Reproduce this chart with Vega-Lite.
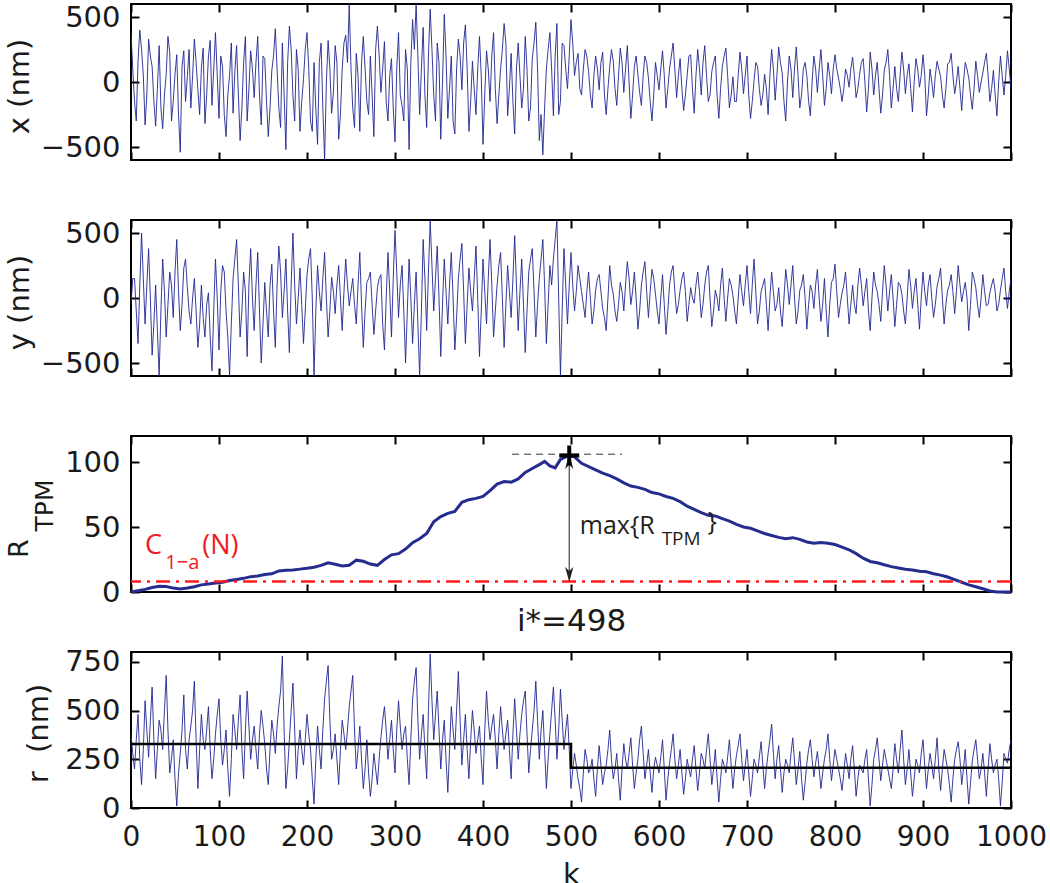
{
"$schema": "https://vega.github.io/schema/vega-lite/v6.json",
"padding": {"left": 4, "top": 2, "right": 10, "bottom": 0},
"background": "white",
"bounds": "flush",
"spacing": 60,
"config": {
  "font": "DejaVu Sans",
  "view": {"stroke": "#000000", "strokeWidth": 2},
  "style": {"guide-label": {"font": "DejaVu Sans", "fontSize": 29, "fill": "#1a1a1a"}, "guide-title": {"font": "DejaVu Sans", "fontSize": 29, "fontWeight": "normal", "fill": "#1a1a1a"}},
  "axis": {"domain": false, "offset": -8, "tickColor": "#000", "tickWidth": 2, "tickSize": 8, "labelFont": "DejaVu Sans", "labelFontSize": 29, "labelColor": "#1a1a1a", "labelPadding": 11, "labelFlush": false, "labelOverlap": false, "titleFont": "DejaVu Sans", "titleFontSize": 29, "titleFontWeight": "normal", "titleColor": "#1a1a1a", "grid": false, "format": "d"}
},
"datasets": {
"sig": [
{"k":0,"x":380,"y":-50,"r":380},{"k":4,"x":-150,"y":150,"r":200},{"k":8,"x":160,"y":-350,"r":480},{"k":12,"x":250,"y":500,"r":120},{"k":16,"x":-330,"y":-200,"r":550},{"k":20,"x":330,"y":380,"r":260},{"k":24,"x":120,"y":-440,"r":620},{"k":28,"x":-340,"y":100,"r":150},{"k":32,"x":280,"y":-600,"r":450},{"k":36,"x":-360,"y":300,"r":300},{"k":40,"x":60,"y":-300,"r":680},{"k":44,"x":230,"y":200,"r":180},{"k":48,"x":-150,"y":-150,"r":350},{"k":52,"x":210,"y":450,"r":10},{"k":56,"x":-540,"y":-250,"r":280},{"k":60,"x":240,"y":230,"r":580},{"k":64,"x":40,"y":80,"r":200},{"k":68,"x":-200,"y":-200,"r":420},{"k":72,"x":330,"y":150,"r":650},{"k":76,"x":-60,"y":-380,"r":100},{"k":80,"x":110,"y":100,"r":480},{"k":84,"x":-320,"y":-300,"r":300},{"k":88,"x":200,"y":40,"r":520},{"k":92,"x":-180,"y":-560,"r":150},{"k":96,"x":380,"y":300,"r":380},{"k":100,"x":-280,"y":-400,"r":560},{"k":104,"x":120,"y":250,"r":220},{"k":108,"x":-420,"y":-100,"r":400},{"k":112,"x":50,"y":-600,"r":60},{"k":116,"x":-240,"y":150,"r":480},{"k":120,"x":280,"y":450,"r":300},{"k":124,"x":-450,"y":-300,"r":580},{"k":128,"x":150,"y":200,"r":150},{"k":132,"x":-300,"y":-450,"r":600},{"k":136,"x":240,"y":380,"r":250},{"k":140,"x":-120,"y":-250,"r":420},{"k":144,"x":350,"y":350,"r":200},{"k":148,"x":-330,"y":-500,"r":500},{"k":152,"x":180,"y":120,"r":330},{"k":156,"x":-420,"y":-300,"r":120},{"k":160,"x":90,"y":260,"r":450},{"k":164,"x":410,"y":-380,"r":280},{"k":168,"x":-200,"y":400,"r":520},{"k":172,"x":300,"y":-150,"r":780},{"k":176,"x":-520,"y":300,"r":100},{"k":180,"x":430,"y":-420,"r":350},{"k":184,"x":-100,"y":500,"r":640},{"k":188,"x":250,"y":-200,"r":150},{"k":192,"x":-380,"y":230,"r":400},{"k":196,"x":20,"y":-350,"r":220},{"k":200,"x":380,"y":180,"r":480},{"k":204,"x":-300,"y":380,"r":300},{"k":208,"x":150,"y":-600,"r":20},{"k":212,"x":-480,"y":250,"r":420},{"k":216,"x":300,"y":-100,"r":200},{"k":220,"x":-600,"y":350,"r":560},{"k":224,"x":320,"y":-300,"r":730},{"k":228,"x":-240,"y":160,"r":250},{"k":232,"x":280,"y":-120,"r":380},{"k":236,"x":-440,"y":250,"r":120},{"k":240,"x":100,"y":-250,"r":450},{"k":244,"x":360,"y":300,"r":300},{"k":248,"x":600,"y":-60,"r":520},{"k":252,"x":-200,"y":150,"r":680},{"k":256,"x":220,"y":-200,"r":200},{"k":260,"x":-380,"y":350,"r":420},{"k":264,"x":350,"y":-380,"r":100},{"k":268,"x":-150,"y":120,"r":350},{"k":272,"x":200,"y":200,"r":60},{"k":276,"x":-420,"y":-280,"r":280},{"k":280,"x":430,"y":80,"r":120},{"k":284,"x":-80,"y":180,"r":360},{"k":288,"x":310,"y":-400,"r":520},{"k":292,"x":-300,"y":350,"r":250},{"k":296,"x":180,"y":-300,"r":450},{"k":300,"x":-460,"y":520,"r":180},{"k":304,"x":380,"y":-150,"r":550},{"k":308,"x":-180,"y":250,"r":300},{"k":312,"x":250,"y":-500,"r":420},{"k":316,"x":-520,"y":300,"r":120},{"k":320,"x":480,"y":-350,"r":560},{"k":324,"x":600,"y":200,"r":720},{"k":328,"x":-250,"y":-600,"r":250},{"k":332,"x":420,"y":450,"r":480},{"k":336,"x":-350,"y":-250,"r":150},{"k":340,"x":560,"y":600,"r":790},{"k":344,"x":-100,"y":-100,"r":350},{"k":348,"x":300,"y":400,"r":600},{"k":352,"x":-440,"y":-450,"r":200},{"k":356,"x":520,"y":300,"r":450},{"k":360,"x":-280,"y":-200,"r":80},{"k":364,"x":200,"y":350,"r":520},{"k":368,"x":-400,"y":-400,"r":300},{"k":372,"x":330,"y":150,"r":700},{"k":376,"x":-60,"y":420,"r":220},{"k":380,"x":440,"y":-350,"r":480},{"k":384,"x":-380,"y":230,"r":150},{"k":388,"x":160,"y":-100,"r":500},{"k":392,"x":-250,"y":400,"r":280},{"k":396,"x":350,"y":-450,"r":420},{"k":400,"x":-480,"y":300,"r":120},{"k":404,"x":240,"y":-200,"r":600},{"k":408,"x":-150,"y":450,"r":350},{"k":412,"x":380,"y":-300,"r":480},{"k":416,"x":-320,"y":100,"r":200},{"k":420,"x":100,"y":350,"r":520},{"k":424,"x":450,"y":-380,"r":300},{"k":428,"x":-260,"y":250,"r":450},{"k":432,"x":220,"y":-150,"r":150},{"k":436,"x":-400,"y":480,"r":560},{"k":440,"x":300,"y":-250,"r":250},{"k":444,"x":-200,"y":300,"r":480},{"k":448,"x":350,"y":-420,"r":600},{"k":452,"x":-300,"y":200,"r":180},{"k":456,"x":180,"y":380,"r":400},{"k":460,"x":460,"y":-300,"r":650},{"k":464,"x":-450,"y":150,"r":250},{"k":468,"x":-560,"y":450,"r":500},{"k":472,"x":100,"y":-350,"r":100},{"k":476,"x":380,"y":250,"r":380},{"k":480,"x":-260,"y":300,"r":620},{"k":484,"x":450,"y":600,"r":250},{"k":488,"x":-150,"y":-600,"r":610},{"k":492,"x":280,"y":380,"r":300},{"k":496,"x":-50,"y":-200,"r":480},
{"k":500,"x":480,"y":350,"r":100},{"k":504,"x":50,"y":-100,"r":280},{"k":508,"x":220,"y":250,"r":150},{"k":512,"x":-100,"y":50,"r":30},{"k":516,"x":250,"y":-150,"r":300},{"k":520,"x":80,"y":200,"r":180},{"k":524,"x":-200,"y":-200,"r":250},{"k":528,"x":200,"y":60,"r":60},{"k":532,"x":-60,"y":180,"r":320},{"k":536,"x":230,"y":-80,"r":120},{"k":540,"x":-250,"y":-250,"r":220},{"k":544,"x":120,"y":250,"r":400},{"k":548,"x":160,"y":30,"r":150},{"k":552,"x":-180,"y":-180,"r":280},{"k":556,"x":260,"y":120,"r":40},{"k":560,"x":-80,"y":-100,"r":330},{"k":564,"x":280,"y":280,"r":200},{"k":568,"x":-280,"y":-50,"r":360},{"k":572,"x":120,"y":200,"r":100},{"k":576,"x":60,"y":-240,"r":250},{"k":580,"x":-180,"y":100,"r":420},{"k":584,"x":200,"y":280,"r":150},{"k":588,"x":30,"y":-150,"r":300},{"k":592,"x":-300,"y":220,"r":80},{"k":596,"x":150,"y":30,"r":260},{"k":600,"x":-60,"y":-200,"r":180},{"k":604,"x":240,"y":180,"r":350},{"k":608,"x":-200,"y":-280,"r":40},{"k":612,"x":100,"y":100,"r":230},{"k":616,"x":300,"y":250,"r":380},{"k":620,"x":-120,"y":-120,"r":150},{"k":624,"x":180,"y":60,"r":300},{"k":628,"x":-220,"y":200,"r":70},{"k":632,"x":50,"y":-180,"r":250},{"k":636,"x":210,"y":80,"r":160},{"k":640,"x":-240,"y":-40,"r":320},{"k":644,"x":250,"y":200,"r":90},{"k":648,"x":-100,"y":-150,"r":280},{"k":652,"x":280,"y":100,"r":200},{"k":656,"x":-150,"y":250,"r":380},{"k":660,"x":80,"y":-220,"r":120},{"k":664,"x":200,"y":60,"r":300},{"k":668,"x":-280,"y":-100,"r":30},{"k":672,"x":120,"y":230,"r":250},{"k":676,"x":260,"y":-180,"r":180},{"k":680,"x":-200,"y":150,"r":350},{"k":684,"x":40,"y":20,"r":100},{"k":688,"x":-150,"y":-200,"r":270},{"k":692,"x":230,"y":180,"r":380},{"k":696,"x":-90,"y":-60,"r":140},{"k":700,"x":200,"y":250,"r":300},{"k":704,"x":-280,"y":-120,"r":60},{"k":708,"x":10,"y":300,"r":250},{"k":712,"x":120,"y":-200,"r":180},{"k":716,"x":-180,"y":50,"r":340},{"k":720,"x":60,"y":150,"r":100},{"k":724,"x":-250,"y":-250,"r":280},{"k":728,"x":250,"y":200,"r":430},{"k":732,"x":-140,"y":-100,"r":150},{"k":736,"x":270,"y":80,"r":320},{"k":740,"x":70,"y":-220,"r":80},{"k":744,"x":-300,"y":220,"r":250},{"k":748,"x":200,"y":-50,"r":180},{"k":752,"x":-120,"y":250,"r":360},{"k":756,"x":270,"y":-200,"r":120},{"k":760,"x":-200,"y":60,"r":290},{"k":764,"x":100,"y":180,"r":40},{"k":768,"x":50,"y":-240,"r":230},{"k":772,"x":-260,"y":100,"r":350},{"k":776,"x":200,"y":-80,"r":160},{"k":780,"x":-80,"y":220,"r":290},{"k":784,"x":250,"y":-180,"r":100},{"k":788,"x":-180,"y":150,"r":250},{"k":792,"x":150,"y":-300,"r":380},{"k":796,"x":-90,"y":120,"r":140},{"k":800,"x":210,"y":260,"r":300},{"k":804,"x":30,"y":-150,"r":200},{"k":808,"x":-150,"y":40,"r":90},{"k":812,"x":100,"y":200,"r":280},{"k":816,"x":-40,"y":-200,"r":150},{"k":820,"x":190,"y":100,"r":320},{"k":824,"x":-120,"y":-120,"r":60},{"k":828,"x":60,"y":230,"r":220},{"k":832,"x":180,"y":-60,"r":180},{"k":836,"x":-230,"y":150,"r":300},{"k":840,"x":230,"y":-250,"r":10},{"k":844,"x":-100,"y":200,"r":250},{"k":848,"x":150,"y":50,"r":360},{"k":852,"x":-240,"y":-180,"r":140},{"k":856,"x":90,"y":250,"r":300},{"k":860,"x":250,"y":-100,"r":200},{"k":864,"x":-200,"y":180,"r":100},{"k":868,"x":120,"y":-220,"r":330},{"k":872,"x":-150,"y":120,"r":180},{"k":876,"x":230,"y":30,"r":400},{"k":880,"x":-90,"y":-200,"r":120},{"k":884,"x":140,"y":220,"r":300},{"k":888,"x":-230,"y":-80,"r":60},{"k":892,"x":180,"y":150,"r":250},{"k":896,"x":-40,"y":-240,"r":180},{"k":900,"x":210,"y":200,"r":350},{"k":904,"x":-260,"y":-60,"r":100},{"k":908,"x":100,"y":180,"r":280},{"k":912,"x":-120,"y":-150,"r":150},{"k":916,"x":160,"y":90,"r":360},{"k":920,"x":40,"y":230,"r":90},{"k":924,"x":-200,"y":-200,"r":300},{"k":928,"x":140,"y":60,"r":200},{"k":932,"x":220,"y":180,"r":30},{"k":936,"x":-90,"y":-120,"r":250},{"k":940,"x":120,"y":250,"r":340},{"k":944,"x":-220,"y":-30,"r":120},{"k":948,"x":150,"y":120,"r":300},{"k":952,"x":30,"y":-250,"r":20},{"k":956,"x":-210,"y":200,"r":240},{"k":960,"x":160,"y":80,"r":350},{"k":964,"x":-80,"y":-150,"r":150},{"k":968,"x":70,"y":180,"r":280},{"k":972,"x":220,"y":-60,"r":60},{"k":976,"x":-150,"y":40,"r":330},{"k":980,"x":90,"y":150,"r":180},{"k":984,"x":-260,"y":-100,"r":250},{"k":988,"x":200,"y":60,"r":10},{"k":992,"x":-100,"y":230,"r":280},{"k":996,"x":240,"y":-80,"r":230},{"k":1000,"x":-50,"y":150,"r":350},
{"k":2,"x":100,"y":150,"r":280},{"k":6,"x":-300,"y":-100,"r":350},{"k":10,"x":400,"y":100,"r":250},{"k":14,"x":50,"y":150,"r":300},{"k":18,"x":-100,"y":100,"r":400},{"k":22,"x":200,"y":0,"r":450},{"k":26,"x":-150,"y":-200,"r":350},{"k":30,"x":-50,"y":-250,"r":300},{"k":34,"x":-200,"y":-100,"r":400},{"k":38,"x":-100,"y":50,"r":500},{"k":42,"x":350,"y":-50,"r":400},{"k":46,"x":-300,"y":100,"r":250},{"k":50,"x":60,"y":200,"r":150},{"k":54,"x":-250,"y":50,"r":180},{"k":58,"x":120,"y":-50,"r":400},{"k":62,"x":-150,"y":300,"r":300},{"k":66,"x":250,"y":-100,"r":350},{"k":70,"x":50,"y":0,"r":500},{"k":74,"x":150,"y":-100,"r":350},{"k":78,"x":-250,"y":-200,"r":300},{"k":82,"x":260,"y":-150,"r":350},{"k":86,"x":-100,"y":-50,"r":400},{"k":90,"x":320,"y":-300,"r":300},{"k":94,"x":100,"y":-100,"r":250},{"k":98,"x":50,"y":0,"r":480},
{"k":102,"x":200,"y":50,"r":350},{"k":106,"x":-250,"y":200,"r":300},{"k":110,"x":-100,"y":-300,"r":200},{"k":114,"x":300,"y":-200,"r":250},{"k":118,"x":80,"y":300,"r":400},{"k":122,"x":-100,"y":100,"r":450},{"k":126,"x":-200,"y":-100,"r":300},{"k":130,"x":350,"y":50,"r":400},{"k":134,"x":-50,"y":100,"r":420},{"k":138,"x":100,"y":0,"r":350},{"k":142,"x":150,"y":100,"r":300},{"k":146,"x":-100,"y":-100,"r":380},{"k":150,"x":200,"y":-200,"r":420},{"k":154,"x":-150,"y":-100,"r":200},{"k":158,"x":-200,"y":100,"r":300},{"k":162,"x":200,"y":-100,"r":380},{"k":166,"x":100,"y":100,"r":420},{"k":170,"x":-350,"y":200,"r":600},{"k":174,"x":-100,"y":50,"r":400},{"k":178,"x":150,"y":-100,"r":200},{"k":182,"x":250,"y":100,"r":500},{"k":186,"x":-300,"y":100,"r":400},{"k":190,"x":100,"y":0,"r":300},{"k":194,"x":-150,"y":-50,"r":300},{"k":198,"x":250,"y":-100,"r":350},
{"k":202,"x":100,"y":300,"r":380},{"k":206,"x":-380,"y":0,"r":150},{"k":210,"x":-200,"y":-100,"r":250},{"k":214,"x":150,"y":50,"r":300},{"k":218,"x":-200,"y":150,"r":400},{"k":222,"x":0,"y":0,"r":650},{"k":226,"x":100,"y":-100,"r":450},{"k":230,"x":-80,"y":50,"r":300},{"k":234,"x":150,"y":100,"r":250},{"k":238,"x":-250,"y":0,"r":300},{"k":242,"x":300,"y":50,"r":380},{"k":246,"x":150,"y":100,"r":400},{"k":250,"x":100,"y":50,"r":600},{"k":254,"x":-350,"y":-50,"r":400},{"k":258,"x":50,"y":100,"r":300},{"k":262,"x":150,"y":-50,"r":250},{"k":266,"x":100,"y":-100,"r":200},{"k":270,"x":-250,"y":150,"r":180},{"k":274,"x":-100,"y":-50,"r":150},{"k":278,"x":250,"y":-100,"r":200},{"k":282,"x":200,"y":150,"r":250},{"k":286,"x":100,"y":-200,"r":450},{"k":290,"x":-150,"y":0,"r":400},{"k":294,"x":50,"y":50,"r":350},{"k":298,"x":-200,"y":150,"r":300},
{"k":302,"x":100,"y":200,"r":400},{"k":306,"x":-100,"y":100,"r":420},{"k":310,"x":-300,"y":-100,"r":380},{"k":314,"x":100,"y":-100,"r":250},{"k":318,"x":150,"y":0,"r":350},{"k":322,"x":250,"y":-50,"r":650},{"k":326,"x":200,"y":-200,"r":450},{"k":330,"x":100,"y":-100,"r":380},{"k":334,"x":-100,"y":150,"r":300},{"k":338,"x":200,"y":200,"r":500},{"k":342,"x":250,"y":250,"r":550},{"k":346,"x":-300,"y":150,"r":480},{"k":350,"x":150,"y":0,"r":400},{"k":354,"x":0,"y":-50,"r":350},{"k":358,"x":200,"y":50,"r":250},{"k":362,"x":-50,"y":100,"r":300},{"k":366,"x":-300,"y":0,"r":400},{"k":370,"x":100,"y":-150,"r":500},{"k":374,"x":200,"y":300,"r":450},{"k":378,"x":300,"y":50,"r":350},{"k":382,"x":100,"y":-50,"r":300},{"k":386,"x":-150,"y":50,"r":350},{"k":390,"x":-50,"y":150,"r":400},{"k":394,"x":100,"y":0,"r":350},{"k":398,"x":50,"y":-100,"r":250},
{"k":402,"x":-100,"y":50,"r":400},{"k":406,"x":100,"y":150,"r":450},{"k":410,"x":200,"y":100,"r":420},{"k":414,"x":-50,"y":-100,"r":350},{"k":418,"x":-100,"y":250,"r":380},{"k":422,"x":250,"y":0,"r":400},{"k":426,"x":300,"y":-50,"r":380},{"k":430,"x":-50,"y":50,"r":300},{"k":434,"x":-150,"y":150,"r":380},{"k":438,"x":100,"y":100,"r":400},{"k":442,"x":50,"y":50,"r":380},{"k":446,"x":-50,"y":-50,"r":550},{"k":450,"x":100,"y":-100,"r":380},{"k":454,"x":-200,"y":300,"r":300},{"k":458,"x":300,"y":50,"r":500},{"k":462,"x":100,"y":-50,"r":450},{"k":466,"x":-250,"y":300,"r":400},{"k":470,"x":-200,"y":100,"r":300},{"k":474,"x":250,"y":-50,"r":250},{"k":478,"x":100,"y":100,"r":500},{"k":482,"x":200,"y":450,"r":450},{"k":486,"x":-250,"y":0,"r":400},{"k":490,"x":300,"y":-100,"r":450},{"k":494,"x":100,"y":100,"r":400},{"k":498,"x":200,"y":100,"r":300},
{"k":502,"x":300,"y":100,"r":200},{"k":506,"x":150,"y":50,"r":220},{"k":510,"x":-50,"y":150,"r":100},{"k":514,"x":100,"y":-50,"r":180},{"k":518,"x":200,"y":50,"r":250},{"k":522,"x":-100,"y":0,"r":200},{"k":526,"x":50,"y":-100,"r":150},{"k":530,"x":100,"y":150,"r":200},{"k":534,"x":150,"y":50,"r":220},{"k":538,"x":-100,"y":-150,"r":180},{"k":542,"x":-50,"y":0,"r":300},{"k":546,"x":250,"y":100,"r":250},{"k":550,"x":-50,"y":-100,"r":200},{"k":554,"x":50,"y":-50,"r":150},{"k":558,"x":150,"y":50,"r":200},{"k":562,"x":100,"y":100,"r":250},{"k":566,"x":0,"y":150,"r":280},{"k":570,"x":-100,"y":50,"r":220},{"k":574,"x":200,"y":0,"r":180},{"k":578,"x":-80,"y":-100,"r":350},{"k":582,"x":50,"y":200,"r":280},{"k":586,"x":150,"y":50,"r":220},{"k":590,"x":-150,"y":50,"r":180},{"k":594,"x":-100,"y":150,"r":200},{"k":598,"x":50,"y":-100,"r":220},
{"k":602,"x":100,"y":0,"r":260},{"k":606,"x":50,"y":-50,"r":200},{"k":610,"x":-50,"y":-100,"r":150},{"k":614,"x":200,"y":200,"r":300},{"k":618,"x":100,"y":50,"r":250},{"k":622,"x":50,"y":-50,"r":220},{"k":626,"x":-50,"y":150,"r":180},{"k":630,"x":-100,"y":50,"r":150},{"k":634,"x":200,"y":-50,"r":200},{"k":638,"x":-50,"y":0,"r":250},{"k":642,"x":50,"y":100,"r":200},{"k":646,"x":100,"y":50,"r":180},{"k":650,"x":150,"y":-50,"r":250},{"k":654,"x":50,"y":200,"r":300},{"k":658,"x":-100,"y":0,"r":250},{"k":662,"x":150,"y":-100,"r":200},{"k":666,"x":-100,"y":0,"r":150},{"k":670,"x":-50,"y":100,"r":150},{"k":674,"x":200,"y":0,"r":220},{"k":678,"x":50,"y":0,"r":260},{"k":682,"x":-100,"y":100,"r":220},{"k":686,"x":-150,"y":-100,"r":200},{"k":690,"x":50,"y":0,"r":320},{"k":694,"x":100,"y":50,"r":250},{"k":698,"x":50,"y":100,"r":220},
{"k":702,"x":-100,"y":50,"r":180},{"k":706,"x":-150,"y":100,"r":150},{"k":710,"x":150,"y":50,"r":220},{"k":714,"x":-50,"y":-100,"r":260},{"k":718,"x":-100,"y":100,"r":220},{"k":722,"x":-50,"y":-50,"r":200},{"k":726,"x":50,"y":0,"r":350},{"k":730,"x":100,"y":50,"r":280},{"k":734,"x":50,"y":-50,"r":250},{"k":738,"x":150,"y":-100,"r":200},{"k":742,"x":-150,"y":0,"r":180},{"k":746,"x":0,"y":100,"r":220},{"k":750,"x":100,"y":100,"r":280},{"k":754,"x":100,"y":0,"r":240},{"k":758,"x":50,"y":-100,"r":200},{"k":762,"x":-100,"y":100,"r":150},{"k":766,"x":150,"y":0,"r":130},{"k":770,"x":-150,"y":-50,"r":300},{"k":774,"x":0,"y":50,"r":250},{"k":778,"x":100,"y":100,"r":230},{"k":782,"x":100,"y":0,"r":200},{"k":786,"x":50,"y":-50,"r":180},{"k":790,"x":-50,"y":-100,"r":300},{"k":794,"x":50,"y":-50,"r":250},{"k":798,"x":100,"y":150,"r":220},
{"k":802,"x":100,"y":50,"r":250},{"k":806,"x":-50,"y":-50,"r":150},{"k":810,"x":-50,"y":100,"r":180},{"k":814,"x":50,"y":0,"r":220},{"k":818,"x":100,"y":-50,"r":250},{"k":822,"x":50,"y":-50,"r":200},{"k":826,"x":-50,"y":100,"r":150},{"k":830,"x":150,"y":100,"r":200},{"k":834,"x":0,"y":50,"r":250},{"k":838,"x":-50,"y":-100,"r":150},{"k":842,"x":100,"y":0,"r":120},{"k":846,"x":50,"y":100,"r":300},{"k":850,"x":-50,"y":-50,"r":250},{"k":854,"x":-100,"y":50,"r":220},{"k":858,"x":150,"y":100,"r":250},{"k":862,"x":50,"y":50,"r":150},{"k":866,"x":-50,"y":0,"r":200},{"k":870,"x":-50,"y":-50,"r":250},{"k":874,"x":50,"y":100,"r":300},{"k":878,"x":100,"y":-100,"r":250},{"k":882,"x":50,"y":0,"r":200},{"k":886,"x":-50,"y":100,"r":180},{"k":890,"x":0,"y":50,"r":150},{"k":894,"x":100,"y":-50,"r":220},{"k":898,"x":50,"y":0,"r":280},
{"k":902,"x":50,"y":50,"r":220},{"k":906,"x":-100,"y":100,"r":200},{"k":910,"x":0,"y":0,"r":220},{"k":914,"x":50,"y":-50,"r":250},{"k":918,"x":100,"y":150,"r":200},{"k":922,"x":-100,"y":0,"r":200},{"k":926,"x":-50,"y":-50,"r":250},{"k":930,"x":150,"y":100,"r":120},{"k":934,"x":50,"y":50,"r":150},{"k":938,"x":0,"y":50,"r":300},{"k":942,"x":-50,"y":100,"r":250},{"k":946,"x":0,"y":50,"r":200},{"k":950,"x":100,"y":0,"r":150},{"k":954,"x":-100,"y":-50,"r":130},{"k":958,"x":-50,"y":150,"r":300},{"k":962,"x":50,"y":-50,"r":250},{"k":966,"x":0,"y":0,"r":200},{"k":970,"x":150,"y":50,"r":180},{"k":974,"x":50,"y":-50,"r":200},{"k":978,"x":-50,"y":100,"r":250},{"k":982,"x":-100,"y":50,"r":220},{"k":986,"x":0,"y":-50,"r":150},{"k":990,"x":50,"y":150,"r":130},{"k":994,"x":50,"y":50,"r":250},{"k":998,"x":100,"y":50,"r":300}
],
"rtpm": [
{"k":0,"R":0},{"k":8,"R":1},{"k":16,"R":2},{"k":24,"R":3.5},{"k":32,"R":4.5},{"k":40,"R":4.2},{"k":48,"R":3},{"k":56,"R":2.3},{"k":64,"R":3},{"k":72,"R":4},{"k":80,"R":5.5},{"k":88,"R":6.2},{"k":96,"R":7},{"k":104,"R":7.5},{"k":112,"R":8.8},{"k":120,"R":9.6},{"k":128,"R":10.5},{"k":136,"R":11.8},{"k":144,"R":12.3},{"k":152,"R":13.5},{"k":160,"R":14},{"k":168,"R":16.2},{"k":176,"R":16.8},{"k":184,"R":17},{"k":192,"R":17.6},{"k":200,"R":18.2},{"k":208,"R":19},{"k":216,"R":20.5},{"k":224,"R":22.5},{"k":232,"R":21.4},{"k":240,"R":20},{"k":248,"R":20.6},{"k":256,"R":24.5},{"k":264,"R":23.6},{"k":272,"R":21.5},{"k":280,"R":20.5},{"k":288,"R":25},{"k":296,"R":28.6},{"k":304,"R":29.5},{"k":312,"R":33},{"k":320,"R":38},{"k":328,"R":41},{"k":336,"R":45},{"k":344,"R":54},{"k":352,"R":58},{"k":360,"R":60.5},{"k":368,"R":62},{"k":376,"R":69},{"k":384,"R":71},{"k":392,"R":72},{"k":400,"R":73.5},{"k":408,"R":78},{"k":416,"R":83},{"k":424,"R":85},{"k":432,"R":84.5},{"k":440,"R":87},{"k":448,"R":92},{"k":456,"R":95},{"k":464,"R":98},{"k":470,"R":100.5},{"k":476,"R":97},{"k":482,"R":95.5},{"k":488,"R":102},{"k":494,"R":104},{"k":498,"R":105},{"k":504,"R":104},{"k":512,"R":99},{"k":520,"R":96.5},{"k":528,"R":94},{"k":536,"R":91.5},{"k":544,"R":89.5},{"k":552,"R":87},{"k":560,"R":84},{"k":568,"R":81.5},{"k":576,"R":80.5},{"k":584,"R":79},{"k":592,"R":76.5},{"k":600,"R":75.5},{"k":608,"R":73.5},{"k":616,"R":72},{"k":624,"R":69.5},{"k":632,"R":66},{"k":640,"R":63.5},{"k":648,"R":61},{"k":656,"R":59},{"k":664,"R":58.5},{"k":672,"R":56.5},{"k":680,"R":54.5},{"k":688,"R":52},{"k":696,"R":50},{"k":704,"R":49},{"k":712,"R":47},{"k":720,"R":45},{"k":728,"R":43.5},{"k":736,"R":42},{"k":744,"R":41},{"k":752,"R":41.8},{"k":760,"R":40.5},{"k":768,"R":38.5},{"k":776,"R":37.5},{"k":784,"R":38},{"k":792,"R":37.5},{"k":800,"R":36.5},{"k":808,"R":34.5},{"k":816,"R":32.5},{"k":824,"R":29.5},{"k":832,"R":26},{"k":840,"R":23.5},{"k":848,"R":22.5},{"k":856,"R":21},{"k":864,"R":19.5},{"k":872,"R":18.5},{"k":880,"R":17.5},{"k":888,"R":17},{"k":896,"R":16},{"k":904,"R":15.5},{"k":912,"R":14},{"k":920,"R":13},{"k":928,"R":11.5},{"k":936,"R":9.5},{"k":944,"R":7.5},{"k":952,"R":5.5},{"k":960,"R":4},{"k":968,"R":2.5},{"k":976,"R":0.8},{"k":984,"R":0},{"k":992,"R":0},{"k":1000,"R":0}
],
"steps": [{"k":0,"m":328},{"k":500,"m":207},{"k":1000,"m":207}]
},
"vconcat": [
{
  "width": 880, "height": 156,
  "data": {"name": "sig"},
  "layer": [
    {"mark": {"type": "line", "color": "#1f2690", "strokeWidth": 0.9, "clip": true},
     "encoding": {
       "x": {"field": "k", "type": "quantitative", "scale": {"domain": [0, 1000], "nice": false}, "axis": {"orient": "bottom", "values": [0,100,200,300,400,500,600,700,800,900,1000], "labels": false, "title": null}},
       "y": {"field": "x", "type": "quantitative", "scale": {"domain": [-600, 600], "nice": false}, "axis": {"orient": "left", "values": [-500, 0, 500], "labelFont": "DejaVu Sans", "labelFontSize": 29, "title": "x (nm)", "titleX": -111, "titleY": 82, "titleBaseline": "alphabetic", "titleAlign": "center", "titleAngle": -90}}
     }},
    {"mark": {"type": "line", "opacity": 0},
     "encoding": {
       "x": {"field": "k", "type": "quantitative", "scale": {"domain": [0, 1000], "nice": false}, "axis": {"orient": "top", "values": [0,100,200,300,400,500,600,700,800,900,1000], "labels": false, "title": null}},
       "y": {"field": "x", "type": "quantitative", "scale": {"domain": [-600, 600], "nice": false}, "axis": {"orient": "right", "values": [-500, 0, 500], "labels": false, "title": null}}
     }}
  ],
  "resolve": {"axis": {"x": "independent", "y": "independent"}}
},
{
  "width": 880, "height": 156,
  "data": {"name": "sig"},
  "layer": [
    {"mark": {"type": "line", "color": "#1f2690", "strokeWidth": 0.9, "clip": true},
     "encoding": {
       "x": {"field": "k", "type": "quantitative", "scale": {"domain": [0, 1000], "nice": false}, "axis": {"orient": "bottom", "values": [0,100,200,300,400,500,600,700,800,900,1000], "labels": false, "title": null}},
       "y": {"field": "y", "type": "quantitative", "scale": {"domain": [-600, 600], "nice": false}, "axis": {"orient": "left", "values": [-500, 0, 500], "labelFont": "DejaVu Sans", "labelFontSize": 29, "title": "y (nm)", "titleX": -111, "titleY": 82, "titleBaseline": "alphabetic", "titleAlign": "center", "titleAngle": -90}}
     }},
    {"mark": {"type": "line", "opacity": 0},
     "encoding": {
       "x": {"field": "k", "type": "quantitative", "scale": {"domain": [0, 1000], "nice": false}, "axis": {"orient": "top", "values": [0,100,200,300,400,500,600,700,800,900,1000], "labels": false, "title": null}},
       "y": {"field": "y", "type": "quantitative", "scale": {"domain": [-600, 600], "nice": false}, "axis": {"orient": "right", "values": [-500, 0, 500], "labels": false, "title": null}}
     }}
  ],
  "resolve": {"axis": {"x": "independent", "y": "independent"}}
},
{
  "width": 880, "height": 156,
  "layer": [
    {"data": {"name": "rtpm"},
     "mark": {"type": "line", "color": "#262c8e", "strokeWidth": 3},
     "encoding": {
       "x": {"field": "k", "type": "quantitative", "scale": {"domain": [0, 1000], "nice": false}, "axis": {"orient": "bottom", "values": [0,100,200,300,400,500,600,700,800,900,1000], "labels": false, "title": "i*=498", "titleFontSize": 31, "titleY": 46, "titleBaseline": "alphabetic"}},
       "y": {"field": "R", "type": "quantitative", "scale": {"domain": [0, 120], "nice": false}, "axis": {"orient": "left", "values": [0, 50, 100], "labelFont": "DejaVu Sans", "labelFontSize": 29, "title": "R", "titleFontSize": 27, "titleX": -112, "titleY": 112, "titleBaseline": "alphabetic", "titleAlign": "center", "titleAngle": -90}}
     }},
    {"data": {"name": "rtpm"},
     "mark": {"type": "line", "opacity": 0},
     "encoding": {
       "x": {"field": "k", "type": "quantitative", "scale": {"domain": [0, 1000], "nice": false}, "axis": {"orient": "top", "values": [0,100,200,300,400,500,600,700,800,900,1000], "labels": false, "title": null}},
       "y": {"field": "R", "type": "quantitative", "scale": {"domain": [0, 120], "nice": false}, "axis": {"orient": "right", "values": [0, 50, 100], "labels": false, "title": null}}
     }},
    {"data": {"name": "rtpm"},
     "mark": {"type": "line", "opacity": 0},
     "encoding": {
       "x": {"field": "k", "type": "quantitative", "axis": null},
       "y": {"field": "R", "type": "quantitative", "axis": {"orient": "left", "offset": 0, "labels": false, "ticks": false, "title": "TPM", "titleFontSize": 25, "titleX": -79, "titleY": 69, "titleBaseline": "alphabetic", "titleAlign": "center", "titleAngle": -90}}
     }},
    {"data": {"values": [{"c": 8}]},
     "mark": {"type": "rule", "color": "#ff1a1a", "strokeWidth": 2.5, "strokeDash": [14, 6, 3, 6]},
     "encoding": {"y": {"field": "c", "type": "quantitative", "axis": null}}},
    {"data": {"values": [{"k1": 433, "k2": 558, "v": 106}]},
     "mark": {"type": "rule", "color": "#333333", "strokeWidth": 1, "strokeDash": [7, 5]},
     "encoding": {"x": {"field": "k1", "type": "quantitative", "axis": null}, "x2": {"field": "k2"}, "y": {"field": "v", "type": "quantitative", "axis": null}}},
    {"data": {"values": [{"k": 498, "v1": 11, "v2": 101}]},
     "mark": {"type": "rule", "color": "#444444", "strokeWidth": 1.2},
     "encoding": {"x": {"field": "k", "type": "quantitative", "axis": null}, "y": {"field": "v1", "type": "quantitative", "axis": null}, "y2": {"field": "v2"}}},
    {"data": {"values": [{"k": 498, "v": 100.4}]},
     "mark": {"type": "point", "shape": "M0,-1L0.55,1L0,0.45L-0.55,1Z", "size": 225, "filled": true, "color": "#222222", "opacity": 1},
     "encoding": {"x": {"field": "k", "type": "quantitative", "axis": null}, "y": {"field": "v", "type": "quantitative", "axis": null}}},
    {"data": {"values": [{"k": 498, "v": 13.5}]},
     "mark": {"type": "point", "shape": "M0,1L0.55,-1L0,-0.45L-0.55,-1Z", "size": 225, "filled": true, "color": "#222222", "opacity": 1},
     "encoding": {"x": {"field": "k", "type": "quantitative", "axis": null}, "y": {"field": "v", "type": "quantitative", "axis": null}}},
    {"data": {"values": [{"k": 498, "v": 105}]},
     "mark": {"type": "point", "shape": "M-1,0L1,0M0,-1L0,1", "size": 400, "filled": false, "stroke": "#000000", "strokeWidth": 4, "opacity": 1},
     "encoding": {"x": {"field": "k", "type": "quantitative", "axis": null}, "y": {"field": "v", "type": "quantitative", "axis": null}}},
    {"data": {"values": [{"k": 510, "v": 45, "t": "max{R"}, {"k": 655, "v": 48, "t": "}"}]},
     "mark": {"type": "text", "font": "Open Sans", "align": "left", "baseline": "alphabetic", "fontSize": 25, "color": "#231f20"},
     "encoding": {"x": {"field": "k", "type": "quantitative", "axis": null}, "y": {"field": "v", "type": "quantitative", "axis": null}, "text": {"field": "t"}}},
    {"data": {"values": [{"k": 603, "v": 36, "t": "TPM"}]},
     "mark": {"type": "text", "font": "Open Sans", "align": "left", "baseline": "alphabetic", "fontSize": 19, "color": "#231f20"},
     "encoding": {"x": {"field": "k", "type": "quantitative", "axis": null}, "y": {"field": "v", "type": "quantitative", "axis": null}, "text": {"field": "t"}}},
    {"data": {"values": [{"k": 16, "v": 29, "t": "C"}, {"k": 81, "v": 29, "t": "(N)"}]},
     "mark": {"type": "text", "font": "Open Sans", "align": "left", "baseline": "alphabetic", "fontSize": 27, "color": "#ee1c24"},
     "encoding": {"x": {"field": "k", "type": "quantitative", "axis": null}, "y": {"field": "v", "type": "quantitative", "axis": null}, "text": {"field": "t"}}},
    {"data": {"values": [{"k": 39, "v": 17.5, "t": "1−a"}]},
     "mark": {"type": "text", "font": "Open Sans", "align": "left", "baseline": "alphabetic", "fontSize": 20, "color": "#ee1c24"},
     "encoding": {"x": {"field": "k", "type": "quantitative", "axis": null}, "y": {"field": "v", "type": "quantitative", "axis": null}, "text": {"field": "t"}}}
  ],
  "resolve": {"axis": {"x": "independent", "y": "independent"}}
},
{
  "width": 880, "height": 156,
  "layer": [
    {"data": {"name": "sig"},
     "mark": {"type": "line", "color": "#1f2690", "strokeWidth": 0.9, "clip": true},
     "encoding": {
       "x": {"field": "k", "type": "quantitative", "scale": {"domain": [0, 1000], "nice": false}, "axis": {"orient": "bottom", "values": [0,100,200,300,400,500,600,700,800,900,1000], "labelFont": "DejaVu Sans", "labelFontSize": 28, "labelPadding": 15, "title": "k", "titleFontSize": 29, "titleY": 83, "titleBaseline": "alphabetic"}},
       "y": {"field": "r", "type": "quantitative", "scale": {"domain": [0, 800], "nice": false}, "axis": {"orient": "left", "values": [0, 250, 500, 750], "labelFont": "DejaVu Sans", "labelFontSize": 29, "title": "r\u00a0 (nm)", "titleX": -92, "titleY": 81, "titleBaseline": "alphabetic", "titleAlign": "center", "titleAngle": -90}}
     }},
    {"data": {"name": "steps"},
     "mark": {"type": "line", "color": "#000000", "strokeWidth": 2.5, "interpolate": "step-after"},
     "encoding": {
       "x": {"field": "k", "type": "quantitative", "axis": null},
       "y": {"field": "m", "type": "quantitative", "axis": null}
     }},
    {"data": {"name": "sig"},
     "mark": {"type": "line", "opacity": 0},
     "encoding": {
       "x": {"field": "k", "type": "quantitative", "scale": {"domain": [0, 1000], "nice": false}, "axis": {"orient": "top", "values": [0,100,200,300,400,500,600,700,800,900,1000], "labels": false, "title": null}},
       "y": {"field": "r", "type": "quantitative", "scale": {"domain": [0, 800], "nice": false}, "axis": {"orient": "right", "values": [0, 250, 500, 750], "labels": false, "title": null}}
     }}
  ],
  "resolve": {"axis": {"x": "independent", "y": "independent"}}
}
]
}
